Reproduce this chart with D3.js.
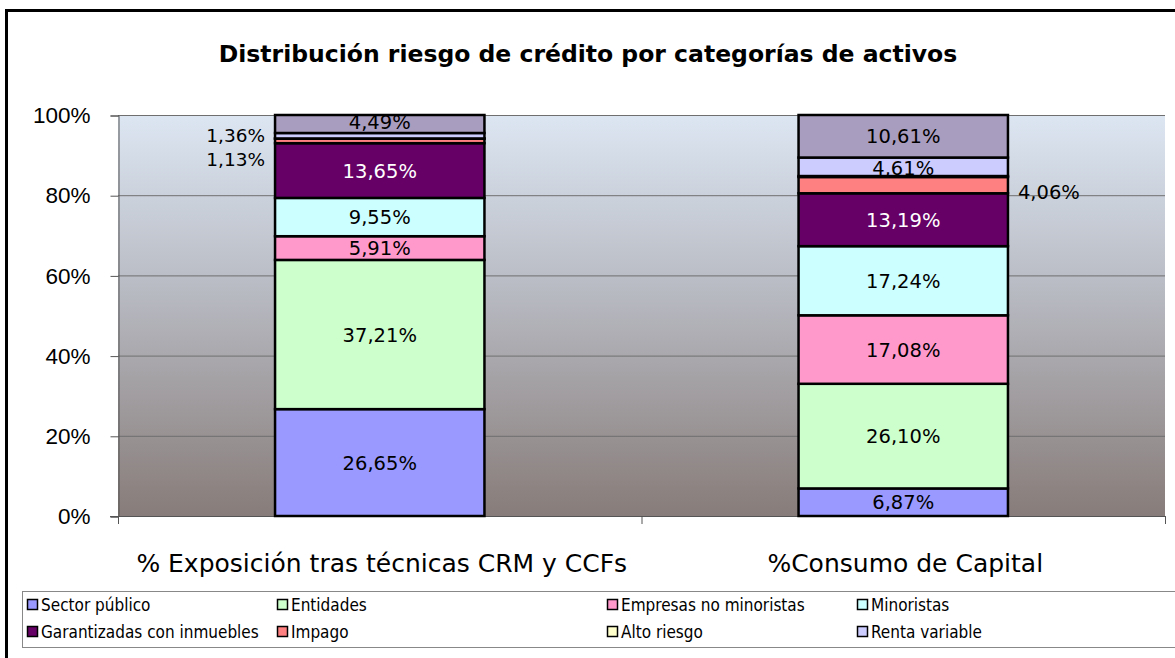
<!DOCTYPE html>
<html>
<head>
<meta charset="utf-8">
<script src="https://cdn.jsdelivr.net/npm/d3@7"></script>
<style>
  html, body { margin: 0; padding: 0; background: #fff; }
  svg { display: block; font-family: "DejaVu Sans", sans-serif; }
  .cond { font-family: "DejaVu Sans Condensed", "DejaVu Sans", sans-serif; }
</style>
</head>
<body>
<svg id="chart" width="1175" height="658"></svg>
<script>
// ---- data ----
const categories = ["% Exposición tras técnicas CRM y CCFs", "%Consumo de Capital"];
const seriesNames = ["Sector público", "Entidades", "Empresas no minoristas", "Minoristas",
  "Garantizadas con inmuebles", "Impago", "Alto riesgo", "Renta variable", "Otros"];
const seriesColors = ["#9999FF", "#CCFFCC", "#FF99CC", "#CCFFFF", "#660066", "#FF8080", "#FFFFCC", "#CCCCFF", "#A89CBF"];
const exposicion = [26.65, 37.21, 5.91, 9.55, 13.65, 1.13, 0.05, 1.36, 4.49];
const consumo    = [6.87, 26.10, 17.08, 17.24, 13.19, 4.06, 0.24, 4.61, 10.61];
const labelsExp  = ["26,65%", "37,21%", "5,91%", "9,55%", "13,65%", "1,13%", "", "1,36%", "4,49%"];
const labelsCon  = ["6,87%", "26,10%", "17,08%", "17,24%", "13,19%", "4,06%", "", "4,61%", "10,61%"];
const yTicks = [0, 20, 40, 60, 80, 100];
const yTickLabels = ["0%", "20%", "40%", "60%", "80%", "100%"];
const legendNames = seriesNames.slice(0, 8);

const svg = d3.select("#chart");

// outer frame
svg.append("rect").attr("x", 6.5).attr("y", 10.5).attr("width", 1180).attr("height", 660)
  .attr("fill", "#fff").attr("stroke", "#000").attr("stroke-width", 3);

// title
svg.append("text").attr("x", 588).attr("y", 62).attr("text-anchor", "middle")
  .attr("font-weight", "bold").attr("font-size", 23.5).attr("fill", "#000")
  .text("Distribución riesgo de crédito por categorías de activos");

// scales
const x = d3.scaleBand().domain(categories).range([118, 1165]).padding(0);
const y = d3.scaleLinear().domain([0, 100]).range([516, 115]);
const barW = x.bandwidth() * 0.4;

// background gradient
const defs = svg.append("defs");
const grad = defs.append("linearGradient").attr("id", "bg").attr("x1", 0).attr("y1", 0).attr("x2", 0).attr("y2", 1);
grad.append("stop").attr("offset", "0%").attr("stop-color", "#DCE6F2");
grad.append("stop").attr("offset", "45%").attr("stop-color", "#B7B9C1");
grad.append("stop").attr("offset", "100%").attr("stop-color", "#877C79");
svg.append("rect").attr("x", 118).attr("y", y(100)).attr("width", 1165 - 118).attr("height", y(0) - y(100))
  .attr("fill", "url(#bg)");

// gridlines
svg.append("g").selectAll("line").data(yTicks.slice(1)).join("line")
  .attr("x1", 118).attr("x2", 1165).attr("y1", d => y(d) + 0.5).attr("y2", d => y(d) + 0.5)
  .attr("stroke", "#6f6f6f").attr("stroke-width", 1);

// y axis
const yAxis = d3.axisLeft(y).tickValues(yTicks).tickFormat((d, i) => yTickLabels[i]).tickSize(8).tickPadding(20);
const gy = svg.append("g").attr("transform", "translate(118.5,0.5)").call(yAxis);
gy.select(".domain").attr("stroke", "#555");
gy.selectAll(".tick line").attr("stroke", "#555");
gy.selectAll(".tick text").attr("font-size", 22.5).attr("fill", "#000").attr("font-family", "inherit");

// x axis
svg.append("line").attr("x1", 110).attr("x2", 1165).attr("y1", y(0) + 0.5).attr("y2", y(0) + 0.5).attr("stroke", "#555");
const xBoundaries = [118, 118 + x.step(), 1165];
svg.append("g").selectAll("line").data(xBoundaries).join("line")
  .attr("x1", d => d + 0.5).attr("x2", d => d + 0.5).attr("y1", y(0)).attr("y2", y(0) + 8).attr("stroke", "#555");
svg.append("g").selectAll("text").data(categories).join("text")
  .attr("x", d => x(d) + x.bandwidth() / 2 + 2).attr("y", 572).attr("text-anchor", "middle")
  .attr("font-size", 25).attr("fill", "#000").text(d => d);

// stacked bars
const dataRows = [exposicion, consumo];
const labelRows = [labelsExp, labelsCon];
const stackData = categories.map((c, i) => {
  const o = { cat: c };
  seriesNames.forEach((s, j) => o[s] = dataRows[i][j]);
  return o;
});
const stacked = d3.stack().keys(seriesNames)(stackData);
const gBars = svg.append("g");
stacked.forEach((layer, j) => {
  gBars.selectAll(null).data(layer).join("rect")
    .attr("x", d => x(d.data.cat) + x.bandwidth() / 2 - barW / 2)
    .attr("y", d => y(d[1]))
    .attr("width", barW)
    .attr("height", d => y(d[0]) - y(d[1]))
    .attr("fill", seriesColors[j])
    .attr("stroke", "#000").attr("stroke-width", 2.5);
});

// data labels
const gLab = svg.append("g").attr("font-size", 19.5);
stacked.forEach((layer, j) => {
  layer.forEach((d, i) => {
    const txt = labelRows[i][j];
    if (!txt) return;
    const cx = x(d.data.cat) + x.bandwidth() / 2;
    let tx = cx, ty = (y(d[0]) + y(d[1])) / 2 + 7, anchor = "middle", fs = 19.5;
    if (i === 0 && (j === 5 || j === 7)) {
      tx = cx - barW / 2 - 10; anchor = "end"; fs = 18.5;
      ty = j === 7 ? y(d[1]) + 9 : y(d[1]) + 27;
    }
    if (i === 1 && j === 5) {
      tx = cx + barW / 2 + 10; anchor = "start";
      ty = (y(d[0]) + y(d[1])) / 2 + 14;
    }
    if (j === 8 && i === 0) ty = (y(d[0]) + y(d[1])) / 2 + 5;
    if (j === 7 && i === 1) ty = (y(d[0]) + y(d[1])) / 2 + 8;
    gLab.append("text").attr("x", tx).attr("y", ty).attr("text-anchor", anchor).attr("font-size", fs)
      .attr("fill", j === 4 ? "#fff" : "#000").text(txt);
  });
});

// legend
svg.append("rect").attr("x", 22.5).attr("y", 591.5).attr("width", 1170).attr("height", 56)
  .attr("fill", "#fff").attr("stroke", "#888").attr("stroke-width", 1);
const legendCols = [27, 277, 607, 857];
const legendRows = [605, 632];
const gLeg = svg.append("g").attr("class", "cond");
legendNames.forEach((n, k) => {
  const cx = legendCols[k % 4], cy = legendRows[Math.floor(k / 4)];
  gLeg.append("rect").attr("x", cx + 0.5).attr("y", cy - 5.5).attr("width", 10).attr("height", 10)
    .attr("fill", seriesColors[k]).attr("stroke", "#000").attr("stroke-width", 1.5);
  gLeg.append("text").attr("x", cx + 14).attr("y", cy + 6).attr("font-size", 17).attr("fill", "#000").text(n);
});
</script>
</body>
</html>
